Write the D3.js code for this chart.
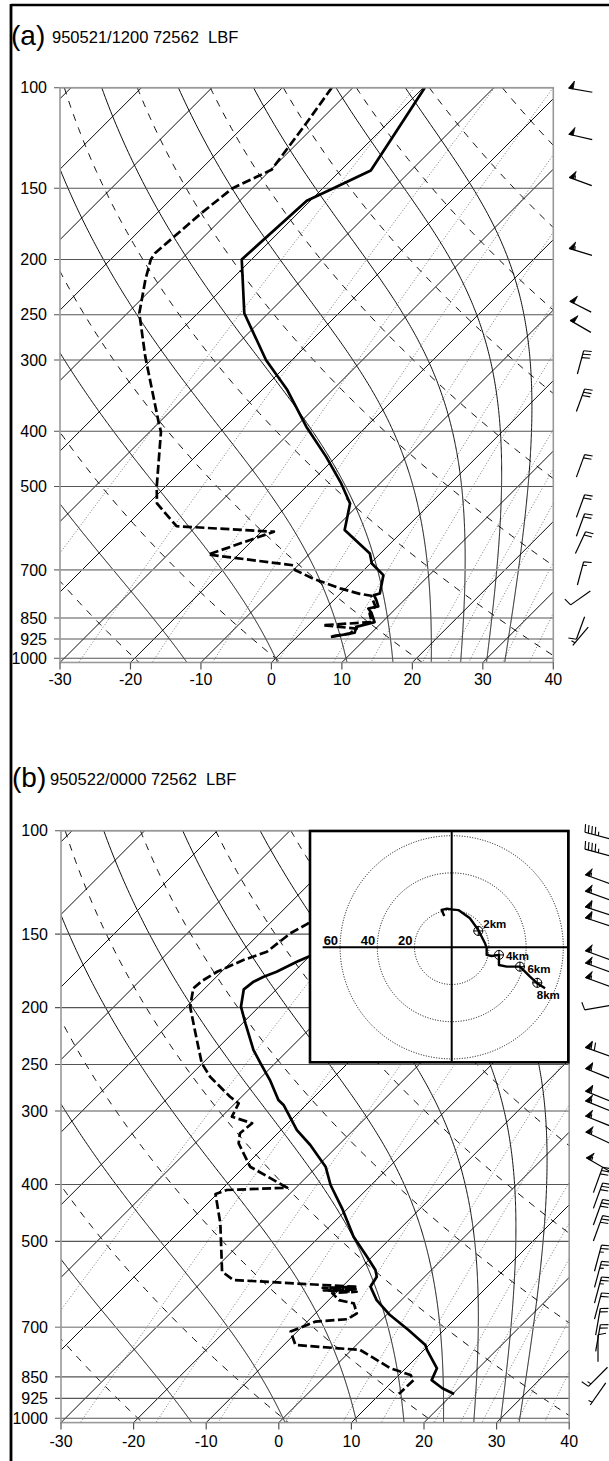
<!DOCTYPE html>
<html><head><meta charset="utf-8">
<script src="https://cdn.jsdelivr.net/npm/d3@7"></script>
<style>
body{margin:0;background:#fff}
svg{display:block}
text{font-family:"Liberation Sans",Arial,Helvetica,sans-serif;fill:#000}
</style>
</head><body>
<svg id="c" width="609" height="1461"></svg>
<script>
// ---------------- data ----------------
const pressureLabels = [100,150,200,250,300,400,500,700,850,925,1000];
const tempTicks = [-30,-20,-10,0,10,20,30,40];
const isothermValues = d3.range(-130, 41, 10);
const dryAdiabatValues = d3.range(-20, 201, 20);          // theta, deg C
const moistAdiabatValues = [-13, 0, 10, 16.6, 22.1, 26.3, 30, 32.6]; // theta-w, deg C
const mixingRatioValues = [0.1, 0.4, 1, 2, 4, 7, 10, 16, 20, 24, 32, 40]; // g/kg

// panel (a) 950521/1200
const aHeader = "950521/1200 72562  LBF";
const aTempP = [100,139.7,150,157.8,200,248.5,300,338.7,392.8,443.6,493.8,535.4,596,655,682,715,770,775,790,811,818,835,864,881,902,917];
const aTempT = [-59.8,-55.7,-58.5,-60.5,-61.4,-53.4,-43.7,-36.4,-28.5,-21.4,-15.5,-11.4,-8.4,-1.5,0.2,3.5,5.6,5.0,6.0,7.2,6.1,7.3,8.9,7.0,7.6,4.8];
const aDewP = [100,115,139.3,150,165.7,195,200,217,248.5,296,387.5,401,500.6,535.4,586.8,600,658,687,700,725,755,771,777,811,835,864,875,887,905,917];
const aDewT = [-73.0,-71.6,-69.9,-72.8,-73.7,-74.6,-74.3,-72.2,-68.3,-61.3,-49.9,-48.4,-41.2,-38.8,-32.8,-18.2,-24.3,-10.7,-9.8,-6.0,-0.6,2.8,4.7,6.8,7.0,8.5,2.0,7.3,7.0,4.5];
const aWindP = [101,122,146,194,242,262,303,353,460,541,584,627,710,784,885,915];
const aWindDir = [280,283,290,287,297,300,15,20,20,20,20,25,15,235,200,220];
const aWindSpd = [50,50,55,55,50,50,30,30,20,20,20,20,15,10,10,5];

// panel (b) 950522/0000
const bHeader = "950522/0000 72562  LBF";
const bTempP = [100,150,163.9,167.1,173.8,177.2,180.7,186.2,199.3,212.7,236.2,248.8,265.7,287.2,292.9,323.2,342.7,373.1,400.8,439.2,490.9,530.9,559.4,574.1,597,629.2,667.3,707.4,750.3,765,822,861,889,909];
const bTempT = [-62,-58,-60.1,-61.0,-62.4,-63.5,-64.2,-64.5,-62.5,-59.6,-54.8,-52.0,-48.4,-44.5,-43.1,-37.8,-33.9,-28.8,-25.6,-20.8,-15.3,-10.7,-7.7,-6.6,-6.1,-3.4,0.5,5.1,9.5,10.4,14.3,15.2,17.8,20.2];
const bDewP = [100,125,143.8,149.5,160.7,166,173.8,180,185.4,199.3,221.2,248.8,262.3,283.6,291.1,306.7,314.7,327.3,340.4,373.1,405.1,408.8,415.3,465.8,563,581.6,593.1,597,600,603,606,609,612,629.2,637.3,662.8,678.3,684.7,712,750.3,765,822,844,861,909];
const bDewT = [-72,-67,-64.7,-65.8,-66.5,-68.6,-70.6,-71.4,-71.6,-69.5,-65.1,-60.1,-57.1,-51.6,-49.5,-48.6,-44.9,-45.2,-44.0,-39.2,-31.2,-39.2,-40.2,-35.5,-28.6,-25.9,-12.8,-8.2,-12.5,-7.6,-12.0,-7.3,-10.5,-8.6,-6.1,-4.3,-4.8,-8.9,-10.9,-8.4,1.2,7.9,11.6,12.7,12.6];
const bWindP = [102,109,121,129,137,143,163,171,181,200,238,259,283,294,312,333,370,393,418,446,475,534,569,605,644,685,730,760,850,909];
const bWindDir = [285,285,290,290,288,288,290,290,290,260,290,292,292,292,292,295,300,20,20,20,20,15,15,15,15,10,10,0,225,215];
const bWindSpd = [45,45,55,55,60,60,55,55,55,10,70,60,60,55,55,55,55,30,30,30,30,25,25,25,20,20,20,10,15,5];

// hodograph (kt)
const hodoU = [-4.0,-5.4,-2.5,0,3.6,9.8,14.3,17.9,18.8,18.8,21.5,25.4,25.4,29.6,36.7,42.1,46.0,50.2];
const hodoV = [16.8,20.1,20.8,20.4,20.0,15.6,9.3,2.2,-0.5,-4.1,-4.7,-4.1,-9.5,-10.4,-10.4,-15.8,-19.4,-22.0];
const hodoRings = [20,40,60];
const hodoMarkU = [14.3,25.4,36.7,46.0];
const hodoMarkV = [8.8,-4.1,-10.4,-19.1];
const hodoMarkLabels = ["2km","4km","6km","8km"];

// ---------------- layout ----------------
const P_TOP = 100, P_BOT = 1017;
const svg = d3.select('#c');

// figure frame
svg.append('line').attr('x1',11).attr('y1',5).attr('x2',609).attr('y2',5).attr('stroke','#000').attr('stroke-width',2.5);
svg.append('line').attr('x1',11).attr('y1',4).attr('x2',11).attr('y2',1461).attr('stroke','#000').attr('stroke-width',2.8);

function moistLapse(T, p){
  const es = 6.112*Math.exp(17.67*(T-273.15)/(T-29.65));
  const rs = 0.622*es/(p-es);
  const Rd=287.04, cp=1005.7, L=2.501e6;
  return ((Rd*T + L*rs)/p)/(cp + (L*L*rs*0.622)/(Rd*T*T));
}
function moistAdiabat(thw){
  const up=[], down=[];
  let T=thw+273.15, p=1000;
  up.push([p,T]);
  while(p>P_TOP){const dp=-2; const k1=moistLapse(T,p); const k2=moistLapse(T+k1*dp/2,p+dp/2); T+=k2*dp; p+=dp; up.push([p,T]);}
  T=thw+273.15; p=1000;
  while(p<P_BOT){const dp=1; const k1=moistLapse(T,p); const k2=moistLapse(T+k1*dp/2,p+dp/2); T+=k2*dp; p+=dp; down.push([p,T]);}
  return down.reverse().concat(up).map(d=>[d[0], d[1]-273.15]);
}

function drawBarb(g, cx, cy, dir, spd, L){
  const r = dir*Math.PI/180;
  const ux = Math.sin(r), uy = -Math.cos(r);
  const px = -uy, py = ux;
  const x0 = cx-ux*L/2, y0 = cy-uy*L/2, x1 = cx+ux*L/2, y1 = cy+uy*L/2;
  g.append('line').attr('x1',x0).attr('y1',y0).attr('x2',x1).attr('y2',y1)
    .attr('stroke','#000').attr('stroke-width',1.2);
  let s = Math.round(spd/5)*5, pos = 0;
  const F = 8;
  while(s>=50){
    const bx=x1-ux*pos, by=y1-uy*pos, ix=x1-ux*(pos+4.5), iy=y1-uy*(pos+4.5);
    g.append('path').attr('d',`M${bx},${by}L${ix},${iy}L${ix+px*F},${iy+py*F}Z`).attr('fill','#000').attr('stroke','#000').attr('stroke-width',0.8);
    pos+=6; s-=50;
  }
  while(s>=10){
    const bx=x1-ux*pos, by=y1-uy*pos;
    g.append('line').attr('x1',bx).attr('y1',by).attr('x2',bx+px*F+ux*1.5).attr('y2',by+py*F+uy*1.5).attr('stroke','#000').attr('stroke-width',1.1);
    pos+=3.5; s-=10;
  }
  if(s>=5){
    if(pos===0) pos=3.5;
    const bx=x1-ux*pos, by=y1-uy*pos;
    g.append('line').attr('x1',bx).attr('y1',by).attr('x2',bx+px*F/2+ux*0.8).attr('y2',by+py*F/2+uy*0.8).attr('stroke','#000').attr('stroke-width',1.1);
  }
}

function drawPanel(cfg){
  const g = svg.append('g');
  const yB0 = cfg.top + cfg.dec*Math.log10(P_BOT/P_TOP);
  const y = d3.scaleLog().domain([P_TOP,P_BOT]).range([cfg.top, yB0]);
  const x = d3.scaleLinear().domain([-30,40]).range([cfg.left, cfg.right]);
  const yB = y(P_BOT);
  const sx = (T,p) => x(T) + (yB - y(p));
  const clipId = 'clip'+cfg.id;
  svg.append('clipPath').attr('id',clipId).append('rect')
    .attr('x',cfg.left).attr('y',cfg.top).attr('width',cfg.right-cfg.left).attr('height',yB-cfg.top);
  const bg = g.append('g').attr('clip-path',`url(#${clipId})`);
  const line = d3.line();
  const ps = d3.range(0,241).map(i=>P_TOP*Math.pow(P_BOT/P_TOP,i/240));

  // mixing ratio lines
  mixingRatioValues.forEach(w=>{
    const pts = ps.map(p=>{const e=w*p/(622+w); const l=Math.log(e/6.112); return [sx(243.5*l/(17.67-l),p), y(p)];});
    bg.append('path').attr('d',line(pts)).attr('fill','none').attr('stroke','#7a7a7a').attr('stroke-width',1).attr('stroke-dasharray','1,2');
  });
  // isotherms
  isothermValues.forEach(T=>{
    bg.append('line').attr('x1',sx(T,P_BOT)).attr('y1',yB).attr('x2',sx(T,P_TOP)).attr('y2',cfg.top)
      .attr('stroke','#000').attr('stroke-width',0.95);
  });
  // dry adiabats
  dryAdiabatValues.forEach(th=>{
    const pts = ps.map(p=>[sx((th+273.15)*Math.pow(p/1000,0.2857)-273.15,p), y(p)]);
    bg.append('path').attr('d',line(pts)).attr('fill','none').attr('stroke','#000').attr('stroke-width',0.95).attr('stroke-dasharray','7,7');
  });
  // moist adiabats
  moistAdiabatValues.forEach(tw=>{
    const pts = moistAdiabat(tw).map(d=>[sx(d[1],d[0]), y(d[0])]);
    bg.append('path').attr('d',line(pts)).attr('fill','none').attr('stroke','#000').attr('stroke-width',0.95);
  });
  // isobars
  pressureLabels.forEach(p=>{
    g.append('line').attr('x1',cfg.left-6).attr('x2',cfg.right).attr('y1',y(p)).attr('y2',y(p))
      .attr('stroke', p===700 ? '#999' : '#555').attr('stroke-width', p===700 ? 1.6 : 1.1);
    g.append('text').attr('x',cfg.labelX).attr('y',y(p)+5.7).attr('text-anchor','end')
      .attr('font-size',16).text(p);
  });
  // profiles
  const prof = g.append('g').attr('clip-path',`url(#${clipId})`);
  const tPts = cfg.tP.map((p,i)=>[sx(cfg.tT[i],p), y(p)]);
  const dPts = cfg.dP.map((p,i)=>[sx(cfg.dT[i],p), y(p)]);
  prof.append('path').attr('d',line(dPts)).attr('fill','none').attr('stroke','#000').attr('stroke-width',2.7)
    .attr('stroke-dasharray','9,3.5').attr('stroke-linejoin','round');
  prof.append('path').attr('d',line(tPts)).attr('fill','none').attr('stroke','#000').attr('stroke-width',2.7)
    .attr('stroke-linejoin','round');
  // frame
  g.append('rect').attr('x',cfg.left).attr('y',cfg.top).attr('width',cfg.right-cfg.left).attr('height',yB-cfg.top)
    .attr('fill','none').attr('stroke','#999').attr('stroke-width',1.6);
  // x ticks & labels
  tempTicks.forEach(t=>{
    g.append('line').attr('x1',x(t)).attr('x2',x(t)).attr('y1',yB).attr('y2',yB+7).attr('stroke','#555').attr('stroke-width',1.2);
    g.append('text').attr('x',x(t)).attr('y',yB+cfg.xLabDy).attr('text-anchor','middle').attr('font-size',16).text(t);
  });
  // header
  g.append('text').attr('x',cfg.hdrX).attr('y',cfg.hdrY).attr('font-size',28).text(cfg.letter);
  g.append('text').attr('x',cfg.hdrTextX).attr('y',cfg.hdrY-2).attr('font-size',16.5).attr('xml:space','preserve')
    .style('white-space','pre').text(cfg.header);
  // wind barbs
  const wb = g.append('g');
  cfg.wP.forEach((p,i)=>drawBarb(wb, cfg.barbX, y(p), cfg.wDir[i], cfg.wSpd[i], cfg.barbL));
  return {g, x, y};
}

drawPanel({id:'a', letter:'(a)', header:aHeader, left:60, right:553.3, top:87.7, dec:570.6, labelX:47,
  hdrX:11, hdrY:45, hdrTextX:52, xLabDy:23, barbX:580.5, barbL:24,
  tP:aTempP, tT:aTempT, dP:aDewP, dT:aDewT, wP:aWindP, wDir:aWindDir, wSpd:aWindSpd});

drawPanel({id:'b', letter:'(b)', header:bHeader, left:61, right:569.2, top:830.7, dec:587.6, labelX:48,
  hdrX:12, hdrY:787, hdrTextX:50, xLabDy:24, barbX:598, barbL:27,
  tP:bTempP, tT:bTempT, dP:bDewP, dT:bDewT, wP:bWindP, wDir:bWindDir, wSpd:bWindSpd});

// ---------------- hodograph inset ----------------
const hb = {x0:310, y0:831, x1:568.3, y1:1062.3, cx:451.7, cy:947.3};
const hk = d3.scaleLinear().domain([0,1]).range([0,1.86]);
const hx = u => hb.cx + hk(u), hy = v => hb.cy - hk(v);
const hg = svg.append('g');
hg.append('rect').attr('x',hb.x0).attr('y',hb.y0).attr('width',hb.x1-hb.x0).attr('height',hb.y1-hb.y0)
  .attr('fill','#fff').attr('stroke','none');
hodoRings.forEach(r=>{
  hg.append('circle').attr('cx',hb.cx).attr('cy',hb.cy).attr('r',hk(r)).attr('fill','none')
    .attr('stroke','#000').attr('stroke-width',1).attr('stroke-dasharray','1,1.6');
  hg.append('text').attr('x',hb.cx-hk(r)-2).attr('y',hb.cy-2).attr('text-anchor','end')
    .attr('font-size',13).attr('font-weight','bold').text(r);
});
hg.append('line').attr('x1',hx(-69.4)).attr('x2',hb.x1).attr('y1',hb.cy).attr('y2',hb.cy).attr('stroke','#000').attr('stroke-width',2);
hg.append('line').attr('x1',hb.cx).attr('x2',hb.cx).attr('y1',hb.y0).attr('y2',hb.y1).attr('stroke','#000').attr('stroke-width',2);
hg.append('path').attr('d',d3.line()(hodoU.map((u,i)=>[hx(u),hy(hodoV[i])])))
  .attr('fill','none').attr('stroke','#000').attr('stroke-width',2.4).attr('stroke-linejoin','round');
const markDx=[5,7,7.5,-0.5], markDy=[-3,5,6,16];
hodoMarkU.forEach((u,i)=>{
  const mx=hx(u), my=hy(hodoMarkV[i]);
  hg.append('circle').attr('cx',mx).attr('cy',my).attr('r',4.5).attr('fill','none').attr('stroke','#000').attr('stroke-width',1);
  hg.append('line').attr('x1',mx-5).attr('x2',mx+5).attr('y1',my).attr('y2',my).attr('stroke','#000').attr('stroke-width',1);
  hg.append('line').attr('x1',mx).attr('x2',mx).attr('y1',my-5).attr('y2',my+5).attr('stroke','#000').attr('stroke-width',1);
  hg.append('text').attr('x',mx+markDx[i]).attr('y',my+markDy[i]).attr('font-size',11.5).attr('font-weight','bold').text(hodoMarkLabels[i]);
});
hg.append('rect').attr('x',hb.x0).attr('y',hb.y0).attr('width',hb.x1-hb.x0).attr('height',hb.y1-hb.y0)
  .attr('fill','none').attr('stroke','#000').attr('stroke-width',2.6);
</script>
</body></html>
